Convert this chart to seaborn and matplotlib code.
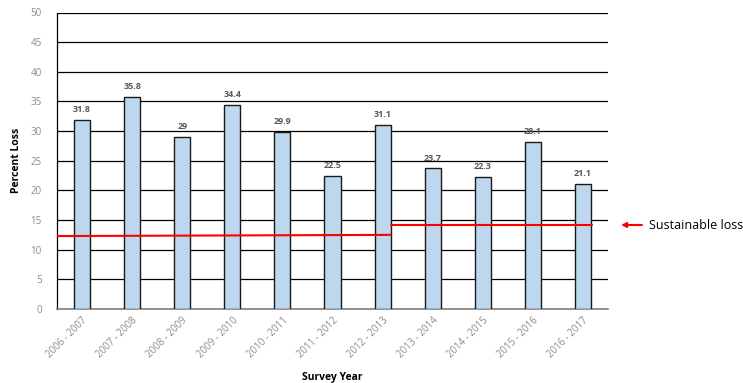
import matplotlib
matplotlib.use("Agg")
import matplotlib.pyplot as plt
import seaborn as sns
import pandas as pd

years = ["2006 - 2007", "2007 - 2008", "2008 - 2009", "2009 - 2010", "2010 - 2011",
         "2011 - 2012", "2012 - 2013", "2013 - 2014", "2014 - 2015", "2015 - 2016",
         "2016 - 2017"]
loss = [31.8, 35.8, 29, 34.4, 29.9, 22.5, 31.1, 23.7, 22.3, 28.1, 21.1]
labels = ["31.8", "35.8", "29", "34.4", "29.9", "22.5", "31.1", "23.7", "22.3", "28.1", "21.1"]
sustain1 = [12.3, 12.5]
sustain2 = [14.2, 14.2]

sns.set_style("white")
plt.rcParams['font.family'] = ['Open Sans', 'DejaVu Sans']

df = pd.DataFrame({"year": years, "loss": loss})
fig = plt.figure(figsize=(7.43, 3.83), dpi=100)
ax = fig.add_axes([57/743, 1-309/383, (608-57)/743, (309-12.5)/383])

sns.barplot(data=df, x="year", y="loss", color="#BDD7EE", edgecolor="#1a1a1a",
            linewidth=1.0, width=0.32, saturation=1, ax=ax, zorder=3)

for i, (v, t) in enumerate(zip(loss, labels)):
    ax.text(i, v + 1.0, t, ha="center", va="bottom", fontsize=6.5, fontweight="bold",
            color="#595959")

ax.set_ylim(0, 50)
ax.set_xlim(-0.5, 10.5)
ax.set_yticks(range(0, 51, 5))
ax.yaxis.grid(True, color="#000000", linewidth=0.9)
ax.set_axisbelow(True)
for s in ["right", "top"]:
    ax.spines[s].set_visible(False)
ax.spines["left"].set_color("#000000")
ax.spines["left"].set_linewidth(0.9)
ax.spines["bottom"].set_color("#808080")
ax.spines["bottom"].set_linewidth(1.2)
ax.tick_params(axis="y", colors="#8c8c8c", labelsize=7, length=0, pad=11)
ax.tick_params(axis="x", colors="#8c8c8c", labelsize=7, length=0, pad=4)
plt.setp(ax.get_xticklabels(), rotation=45, ha="right", rotation_mode="anchor")

ax.set_xlabel("Survey Year", fontsize=7.5, fontweight="bold", color="black", labelpad=9)
ax.set_ylabel("Percent Loss", fontsize=7.5, fontweight="bold", color="black", labelpad=6)

ax.plot([-0.5, 6.16], sustain1, color="#FF0000", linewidth=1.5, zorder=5)
ax.plot([6.16, 10.18], sustain2, color="#FF0000", linewidth=1.5, zorder=5)

ax.annotate("", xy=(621/743, 1-225/383), xytext=(642/743, 1-225/383),
            xycoords="figure fraction", textcoords="figure fraction",
            arrowprops=dict(arrowstyle="-|>", color="#FF0000", lw=1.5,
                            mutation_scale=7, shrinkA=0, shrinkB=0))
fig.text(649/743, 1-225/383, "Sustainable loss", fontsize=9, color="black",
         ha="left", va="center")

fig.savefig("out.png", dpi=100)
